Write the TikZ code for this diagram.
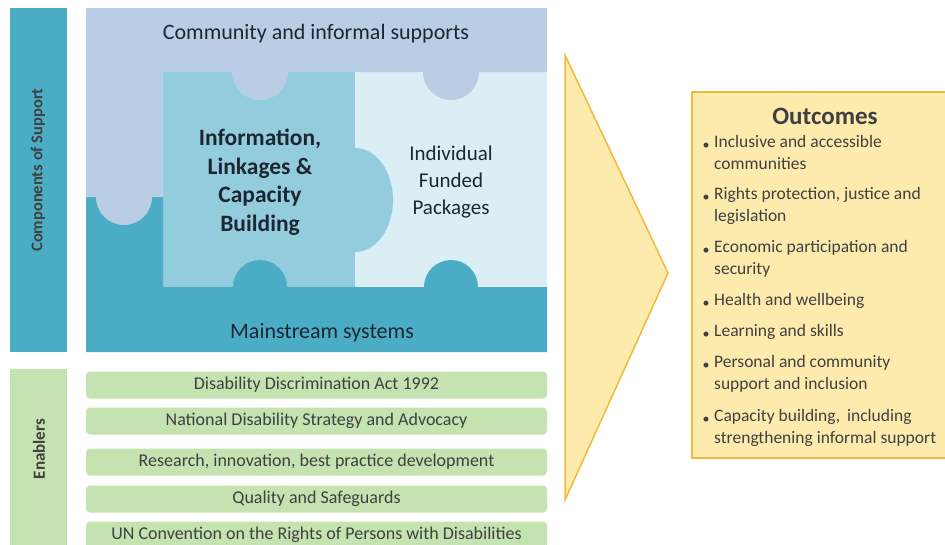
\documentclass[tikz,border=0pt]{standalone}
\usepackage{fontspec}
\setmainfont{Carlito}
\definecolor{commcol}{HTML}{B9CDE5}
\definecolor{ilccol}{HTML}{93CDDD}
\definecolor{indivcol}{HTML}{DAEEF4}
\definecolor{mainscol}{HTML}{4BACC6}
\definecolor{enabcol}{HTML}{C4E3B0}
\definecolor{outfill}{HTML}{FDEBAE}
\definecolor{outline}{HTML}{F2B93B}
\definecolor{txtdark}{HTML}{1C2733}
\definecolor{txtgrey}{HTML}{404040}

\begin{document}
\begin{tikzpicture}[x=1pt,y=-1pt,
  piecelbl/.style={text=txtdark,align=center,inner sep=0pt},
  sidelbl/.style={rotate=90,text=txtgrey,font=\bfseries},
  enabler/.style={fill=enabcol,rounded corners=4pt,minimum width=461pt,minimum height=27pt,
    text=txtgrey,font=\fontsize{18}{21}\selectfont,inner sep=0pt},
  outitem/.style={anchor=north west,align=left,text=txtgrey,inner sep=0pt,
    font=\fontsize{17.5}{21.5}\selectfont}]
\useasboundingbox (0,0) rectangle (945,544);
\clip (0,0) rectangle (945,544);
\fill[white] (0,0) rectangle (945,544);

% left bars
\fill[mainscol] (10,8) rectangle (67,352);
\node[sidelbl,font=\bfseries\fontsize{16.5}{19}\selectfont] (cos) at (38,170) {Components of Support};
\fill[enabcol] (10,369) rectangle (67,560);
\node[sidelbl,font=\bfseries\fontsize{17}{20}\selectfont] (enab) at (39,449) {Enablers};

% puzzle pieces
\fill[indivcol] (355,72) rectangle (547,287);
\fill[ilccol] (163,72) rectangle (355,287);
\fill[ilccol] (355,200) ellipse[x radius=38,y radius=52];
\fill[mainscol] (86,287) rectangle (547,352) (86,197) rectangle (163,287);
\fill[mainscol] (260,287) circle[radius=27] (451,287) circle[radius=27];
\fill[commcol] (86,8) rectangle (547,72) (86,72) rectangle (163,197);
\fill[commcol] (124,197) circle[radius=28] (260,72) circle[radius=28] (451,72) circle[radius=28];

\node[piecelbl,font=\fontsize{22}{26}\selectfont] (comm) at (316,34) {Community and informal supports};
\node[piecelbl,font=\bfseries\fontsize{23.5}{28.5}\selectfont] (ilc) at (260,182)
  {Information,\\Linkages \&\\Capacity\\Building};
\node[piecelbl,font=\fontsize{21}{27}\selectfont] (indiv) at (451,182) {Individual\\Funded\\Packages};
\node[piecelbl,font=\fontsize{22}{26}\selectfont] (mains) at (322,333) {Mainstream systems};

% enablers
\foreach \y/\nm/\txt in {385/dda/{Disability Discrimination Act 1992},
    421/nds/{National Disability Strategy and Advocacy},
    462/rib/{Research, innovation, best practice development},
    499/qs/{Quality and Safeguards},
    535/uncrpd/{UN Convention on the Rights of Persons with Disabilities}}
  \node[enabler] (\nm) at (316.5,\y) {\txt};

% arrow
\filldraw[fill=outfill,draw=outline,line width=1.5pt,line join=miter] (565,55) -- (668,273) -- (565,500) -- cycle;

% outcomes
\node[draw=outline,fill=outfill,line width=2pt,anchor=north west,minimum width=280pt,minimum height=366pt] (outbox) at (691,91) {};
\node[text=txtgrey,font=\bfseries\fontsize{25}{30}\selectfont] (otitle) at (825,116) {Outcomes};
\foreach \y/\txt [count=\i] in {146/{Inclusive and accessible\\communities},
    198/{Rights protection, justice and\\legislation},
    251/{Economic participation and\\security},
    304/{Health and wellbeing},
    335/{Learning and skills},
    366/{Personal and community\\support and inclusion},
    420/{Capacity building,\, including\\strengthening informal support}}
{
  \node[text=txtgrey,font=\fontsize{14}{14}\selectfont,inner sep=0pt] (b\i) at (706,\y) {\textbullet};
  \node[outitem] (o\i) at (714,\y-10.5) {\txt};
}
\end{tikzpicture}
\end{document}
